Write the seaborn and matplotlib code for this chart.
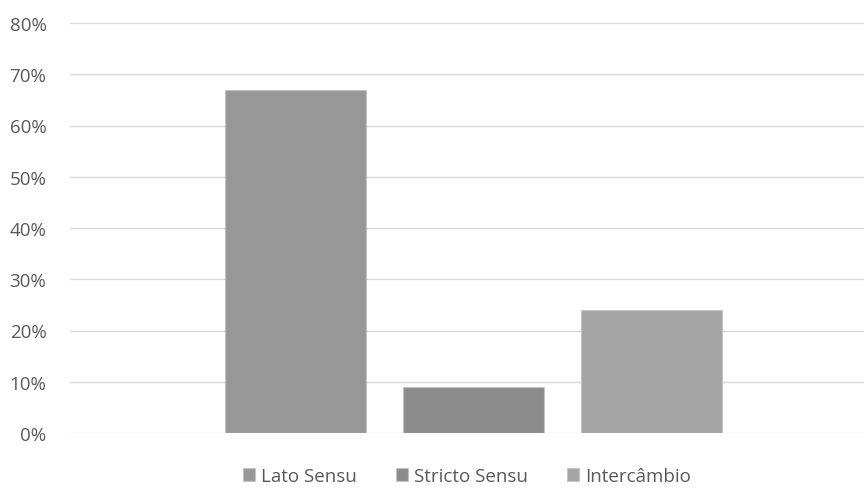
import numpy as np
import pandas as pd
import matplotlib
matplotlib.use("Agg")
import matplotlib.pyplot as plt
import seaborn as sns
from matplotlib.ticker import PercentFormatter

sns.set_style("white")
plt.rcParams['font.family'] = ['Open Sans', 'DejaVu Sans']

# data
series = ["Lato Sensu", "Stricto Sensu", "Intercâmbio"]
values = [0.67, 0.09, 0.24]
colors = ["#989898", "#8c8c8c", "#a5a5a5"]
title = "Modalidade"

data = pd.DataFrame({"grupo": [""] * len(series), "tipo": series, "valor": values})

fig = plt.figure(figsize=(8.64, 4.89), dpi=100)
ax = fig.add_axes([70 / 864, 1 - 434 / 489, 1 - 70 / 864, (434 - 24) / 489])

sns.barplot(data=data, x="grupo", y="valor", hue="tipo", palette=colors,
            width=0.8, gap=0.21, edgecolor="#c4c4c4", linewidth=0.8, ax=ax)

ax.set_ylim(0, 0.8)
ax.set_xlim(-0.605, 0.585)
ax.set_yticks(np.arange(0, 0.81, 0.1))
ax.yaxis.set_major_formatter(PercentFormatter(1.0, decimals=0))
ax.tick_params(axis="y", labelsize=13.5, labelcolor="#595959", length=0, pad=17)
ax.set_xticks([])
ax.set_xlabel("")
ax.set_ylabel("")
ax.grid(axis="y", color="#d9d9d9", linewidth=1)
ax.set_axisbelow(True)
for s in ax.spines.values():
    s.set_visible(False)

leg = ax.legend(loc="center", bbox_to_anchor=(0.5, -0.105), ncol=3, frameon=False,
                fontsize=13.5, handlelength=0.65, handleheight=0.65, handletextpad=0.3,
                columnspacing=2.1)
for t in leg.get_texts():
    t.set_color("#595959")

fig.text(0.535, 1 - 2 / 489, title, ha="center", va="bottom", fontsize=14, color="#595959")

plt.savefig("out.png", dpi=100)
